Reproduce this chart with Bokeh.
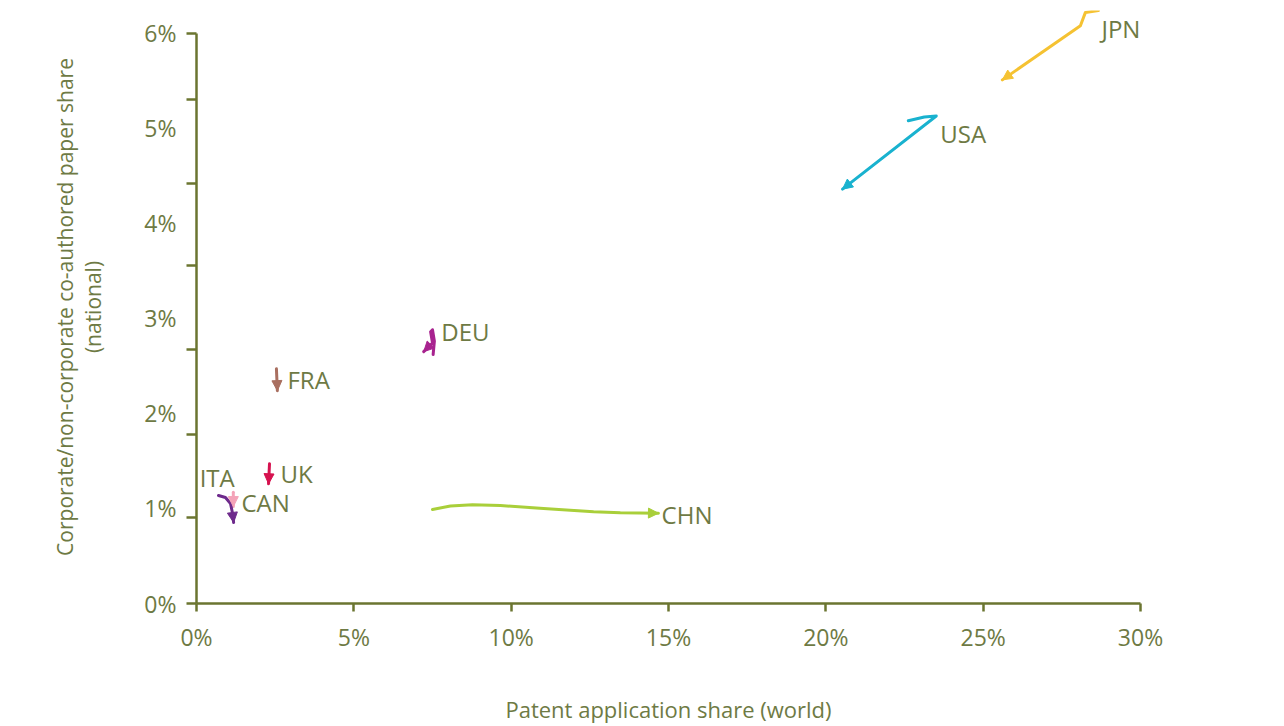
from bokeh.plotting import figure
from bokeh.models import (ColumnDataSource, LinearAxis, FixedTicker, CustomJSTickFormatter,
                          Arrow, NormalHead)
from bokeh.embed import file_html
from bokeh.resources import INLINE
from bokeh.core.properties import value

# ---- data (percent) ----
countries = ["JPN", "USA", "DEU", "FRA", "UK", "ITA", "CAN", "CHN"]
colors = ["#f5c232", "#19b2cf", "#a8238f", "#a96f60", "#d6124f", "#f4a3b8", "#6e2a8c", "#a9cf3a"]

jpn_x = [28.66, 28.25, 28.09, 25.61]
jpn_y = [6.24, 6.22, 6.08, 5.51]
usa_x = [22.62, 23.13, 23.51, 20.53]
usa_y = [5.08, 5.12, 5.13, 4.36]
deu_x = [7.52, 7.56, 7.50, 7.44, 7.50, 7.40, 7.22]
deu_y = [2.62, 2.76, 2.88, 2.86, 2.74, 2.71, 2.65]
fra_x = [2.54, 2.57]
fra_y = [2.47, 2.24]
uk_x = [2.32, 2.29]
uk_y = [1.47, 1.26]
ita_x = [1.17, 1.17]
ita_y = [1.17, 1.02]
can_x = [0.70, 0.92, 1.08, 1.14, 1.18]
can_y = [1.137, 1.116, 1.053, 0.958, 0.853]
chn_x = [7.50, 8.07, 8.77, 9.66, 11.03, 12.62, 13.47, 14.68]
chn_y = [0.99, 1.026, 1.04, 1.03, 1.00, 0.965, 0.955, 0.95]

series_x = [jpn_x, usa_x, deu_x, fra_x, uk_x, ita_x, can_x, chn_x]
series_y = [jpn_y, usa_y, deu_y, fra_y, uk_y, ita_y, can_y, chn_y]

# label anchors
label_x = [28.76, 23.64, 7.78, 2.89, 2.67, 0.10, 1.43, 14.78]
label_y = [6.05, 4.95, 2.86, 2.36, 1.37, 1.33, 1.06, 0.94]

x_ticks = [0, 5, 10, 15, 20, 25, 30]
x_tick_labels = ["0%", "5%", "10%", "15%", "20%", "25%", "30%"]
y_ticks = [0, 1, 2, 3, 4, 5, 6]
y_tick_labels = ["0%", "1%", "2%", "3%", "4%", "5%", "6%"]
y_tick_marks = [0, 0.905, 1.779, 2.674, 3.558, 4.421, 5.305, 6.0]

FONT = "Open Sans"
TXT = "#6e7a44"
AX = "#6b7530"

p = figure(width=1284, height=726, x_range=(0, 30), y_range=(0, 6.24),
           output_backend="svg", toolbar_location=None,
           min_border_left=196, min_border_right=144, min_border_top=10, min_border_bottom=123)
p.outline_line_color = None
p.grid.visible = False
p.background_fill_color = "white"
p.border_fill_color = "white"

# x axis
xa = p.xaxis[0]
xa.ticker = FixedTicker(ticks=x_ticks)
xa.major_label_overrides = {t: l for t, l in zip(x_ticks, x_tick_labels)}
xa.axis_line_color = AX
xa.axis_line_width = 2.5
xa.major_tick_line_color = AX
xa.major_tick_line_width = 2.5
xa.major_tick_out = 8
xa.major_tick_in = 0
xa.minor_tick_line_color = None
xa.major_label_standoff = 9
xa.major_label_text_font = FONT
xa.major_label_text_font_size = "23px"
xa.major_label_text_color = TXT
xa.axis_label = "Patent application share (world)"
xa.axis_label_standoff = 38
xa.axis_label_text_font = FONT
xa.axis_label_text_font_size = "22px"
xa.axis_label_text_font_style = "normal"
xa.axis_label_text_color = TXT

# y axis: tick marks only (inner)
ya = p.yaxis[0]
ya.ticker = FixedTicker(ticks=y_tick_marks)
ya.formatter = CustomJSTickFormatter(code="return ''")
ya.bounds = (0, 6)
ya.axis_line_color = AX
ya.axis_line_width = 2.5
ya.major_tick_line_color = AX
ya.major_tick_line_width = 2.5
ya.major_tick_out = 10
ya.major_tick_in = 0
ya.minor_tick_line_color = None
ya.major_label_standoff = 0

# y axis: labels only (outer)
yl = LinearAxis(ticker=FixedTicker(ticks=y_ticks))
yl.major_label_overrides = {t: l for t, l in zip(y_ticks, y_tick_labels)}
yl.bounds = (0, 6)
yl.axis_line_color = None
yl.major_tick_line_color = None
yl.major_tick_out = 0
yl.major_tick_in = 0
yl.minor_tick_line_color = None
yl.major_label_standoff = 10
yl.major_label_text_font = FONT
yl.major_label_text_font_size = "23px"
yl.major_label_text_color = TXT
yl.axis_label = "Corporate/non-corporate co-authored paper share\n(national)"
yl.axis_label_standoff = 34
yl.axis_label_text_font = FONT
yl.axis_label_text_font_size = "21px"
yl.axis_label_text_font_style = "normal"
yl.axis_label_text_color = TXT
yl.axis_label_text_line_height = 1.0
p.add_layout(yl, "left")

# trajectories with arrow heads
for xs, ys, c in zip(series_x, series_y, colors):
    p.line(xs, ys, line_color=c, line_width=3, line_join="round", line_cap="round")
    src = ColumnDataSource(dict(x0=[xs[-2]], y0=[ys[-2]], x1=[xs[-1]], y1=[ys[-1]]))
    p.add_layout(Arrow(end=NormalHead(size=10, fill_color=c, line_color=c, line_width=1),
                       x_start="x0", y_start="y0", x_end="x1", y_end="y1",
                       line_color=c, line_width=3, line_alpha=0, source=src))

p.text(x=label_x, y=label_y, text=countries, text_font=value(FONT), text_font_size="24px",
       text_color=TXT, text_align="left", text_baseline="middle")

open("out.html", "w").write(file_html(p, INLINE))
